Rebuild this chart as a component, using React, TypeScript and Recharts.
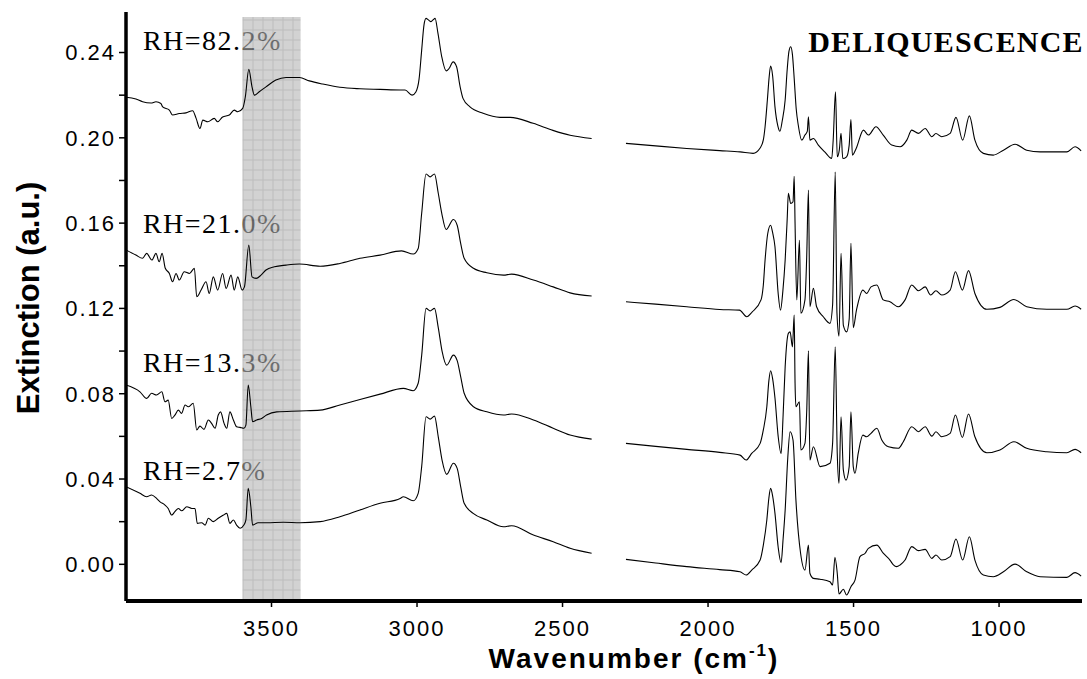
import React from 'react';
import { LineChart, Line, XAxis, YAxis, ReferenceArea, ReferenceDot } from 'recharts';

type Pt = [number, number];

// wavenumber (cm-1), extinction
const rh822Left: Pt[] = [
  [4000, 0.219], [3966, 0.2182], [3943, 0.2169], [3914, 0.2163], [3897, 0.2169], [3880, 0.2161], [3874, 0.2145],
  [3851, 0.213], [3840, 0.2107], [3817, 0.2114], [3794, 0.2117], [3771, 0.2127], [3759, 0.2091], [3746, 0.2044],
  [3736, 0.2083], [3719, 0.2075], [3697, 0.2091], [3685, 0.2075], [3668, 0.2098], [3645, 0.2107], [3628, 0.213],
  [3616, 0.2122], [3599, 0.2138], [3590, 0.2192], [3578, 0.2321], [3567, 0.2239], [3559, 0.22], [3542, 0.2216],
  [3519, 0.2239], [3485, 0.2271], [3450, 0.2283], [3404, 0.2283], [3370, 0.2267], [3324, 0.2252], [3265, 0.2237],
  [3196, 0.223], [3127, 0.2227], [3058, 0.2224], [3041, 0.2224], [3017, 0.22], [3004, 0.2215], [2993, 0.2275],
  [2984, 0.2411], [2976, 0.253], [2969, 0.256], [2961, 0.2553], [2953, 0.2545], [2945, 0.2553], [2938, 0.256],
  [2928, 0.249], [2915, 0.238], [2900, 0.2314], [2890, 0.2325], [2876, 0.2356], [2864, 0.2333], [2852, 0.224],
  [2842, 0.2185], [2818, 0.2145], [2773, 0.2115], [2715, 0.2096], [2680, 0.2096], [2601, 0.2068], [2533, 0.2035],
  [2474, 0.2012], [2400, 0.1997],
];
const rh822Right: Pt[] = [
  [2282, 0.1974], [2180, 0.1962], [2073, 0.195], [1960, 0.194], [1890, 0.1934], [1845, 0.1927], [1821, 0.1952],
  [1810, 0.199], [1804, 0.2052], [1796, 0.218], [1790, 0.2285], [1785, 0.2336], [1778, 0.229], [1770, 0.2145],
  [1760, 0.2055], [1753, 0.2031], [1745, 0.208], [1735, 0.2177], [1728, 0.232], [1722, 0.2405], [1716, 0.2427],
  [1710, 0.239], [1704, 0.228], [1697, 0.2135], [1690, 0.206], [1678, 0.1989], [1667, 0.2013], [1659, 0.203],
  [1655, 0.2098], [1650, 0.1989], [1638, 0.1997], [1621, 0.1966], [1599, 0.1934], [1575, 0.1903], [1570, 0.1989],
  [1562, 0.2216], [1556, 0.1911], [1549, 0.1942], [1543, 0.2021], [1537, 0.1903], [1524, 0.1911], [1515, 0.1966],
  [1509, 0.2086], [1504, 0.1919], [1491, 0.195], [1466, 0.2036], [1449, 0.2013], [1423, 0.2052], [1398, 0.2013],
  [1369, 0.1966], [1340, 0.1958], [1317, 0.1989], [1300, 0.2036], [1277, 0.2021], [1254, 0.2044], [1231, 0.2005],
  [1217, 0.202], [1197, 0.2005], [1168, 0.2021], [1148, 0.2096], [1125, 0.1989], [1102, 0.2103], [1083, 0.1989],
  [1054, 0.1927], [1020, 0.1919], [985, 0.1942], [945, 0.197], [905, 0.1942], [859, 0.1934], [767, 0.1934],
  [739, 0.1958], [718, 0.1939],
];

const rh210Left: Pt[] = [
  [4000, 0.1474], [3966, 0.145], [3943, 0.1435], [3929, 0.1458], [3911, 0.1427], [3897, 0.1458], [3886, 0.1419],
  [3876, 0.1458], [3865, 0.1388], [3851, 0.1364], [3840, 0.1325], [3828, 0.1364], [3817, 0.1333], [3800, 0.1372],
  [3782, 0.1364], [3765, 0.1388], [3757, 0.1255], [3742, 0.1286], [3725, 0.1325], [3714, 0.127], [3700, 0.1348],
  [3685, 0.1286], [3668, 0.1364], [3656, 0.1294], [3639, 0.1356], [3628, 0.1286], [3616, 0.1348], [3601, 0.1286],
  [3593, 0.1301], [3578, 0.1497], [3567, 0.1348], [3553, 0.1341], [3536, 0.1356], [3519, 0.138], [3490, 0.1395],
  [3450, 0.1403], [3404, 0.1408], [3333, 0.1398], [3265, 0.1411], [3196, 0.1435], [3127, 0.145], [3053, 0.147],
  [3013, 0.1455], [2996, 0.1481], [2984, 0.1646], [2969, 0.183], [2955, 0.1817], [2940, 0.183], [2927, 0.174],
  [2915, 0.1646], [2900, 0.157], [2875, 0.1617], [2862, 0.159], [2850, 0.1505], [2838, 0.1435], [2806, 0.1388],
  [2760, 0.1367], [2703, 0.1356], [2675, 0.1361], [2600, 0.1333], [2532, 0.1301], [2474, 0.1273], [2400, 0.1258],
];
const rh210Right: Pt[] = [
  [2282, 0.1231], [2180, 0.122], [2073, 0.1208], [1960, 0.1195], [1892, 0.1192], [1867, 0.1161], [1848, 0.1184],
  [1818, 0.124], [1810, 0.131], [1804, 0.1427], [1795, 0.155], [1785, 0.159], [1778, 0.1555], [1770, 0.1489],
  [1759, 0.127], [1751, 0.1192], [1743, 0.128], [1735, 0.1427], [1728, 0.162], [1724, 0.174], [1716, 0.1692],
  [1708, 0.17], [1704, 0.182], [1701, 0.16], [1695, 0.124], [1686, 0.152], [1681, 0.1177], [1667, 0.124],
  [1661, 0.144], [1655, 0.1755], [1650, 0.1208], [1638, 0.1294], [1627, 0.1208], [1604, 0.1161], [1581, 0.113],
  [1572, 0.1216], [1563, 0.184], [1557, 0.1177], [1550, 0.107], [1543, 0.1458], [1535, 0.112], [1524, 0.109],
  [1515, 0.115], [1509, 0.1505], [1501, 0.111], [1490, 0.1192], [1468, 0.1286], [1455, 0.127], [1440, 0.1301],
  [1420, 0.131], [1398, 0.124], [1375, 0.1231], [1346, 0.1208], [1323, 0.124], [1300, 0.131], [1277, 0.1283],
  [1254, 0.1301], [1235, 0.1263], [1217, 0.1283], [1197, 0.1263], [1168, 0.1286], [1150, 0.1372], [1126, 0.1286],
  [1105, 0.1377], [1083, 0.127], [1042, 0.1196], [997, 0.1205], [949, 0.1242], [905, 0.1208], [836, 0.1196],
  [767, 0.1196], [739, 0.1211], [718, 0.1196],
];

const rh133Left: Pt[] = [
  [4000, 0.0841], [3952, 0.0809], [3929, 0.0778], [3912, 0.0802], [3895, 0.0794], [3877, 0.0809], [3866, 0.0762],
  [3855, 0.077], [3843, 0.0684], [3832, 0.07], [3820, 0.0723], [3809, 0.0708], [3797, 0.0747], [3786, 0.0739],
  [3769, 0.0755], [3757, 0.063], [3746, 0.0648], [3732, 0.0633], [3717, 0.0677], [3706, 0.0661], [3694, 0.0638],
  [3683, 0.07], [3675, 0.0715], [3663, 0.0661], [3654, 0.0638], [3643, 0.0715], [3631, 0.0677], [3620, 0.0645],
  [3608, 0.0642], [3595, 0.0638], [3588, 0.0653], [3580, 0.0841], [3571, 0.0739], [3565, 0.0669], [3551, 0.0677],
  [3534, 0.0684], [3517, 0.07], [3482, 0.0715], [3402, 0.0719], [3333, 0.0723], [3265, 0.0747], [3196, 0.0773],
  [3127, 0.0798], [3047, 0.0825], [3013, 0.0814], [2996, 0.0849], [2984, 0.098], [2969, 0.12], [2955, 0.1188],
  [2940, 0.12], [2927, 0.111], [2914, 0.1], [2898, 0.0934], [2875, 0.0981], [2862, 0.0955], [2850, 0.088],
  [2838, 0.0802], [2806, 0.0739], [2760, 0.0715], [2703, 0.07], [2675, 0.0705], [2600, 0.0677], [2532, 0.0638],
  [2474, 0.0606], [2400, 0.0587],
];
const rh133Right: Pt[] = [
  [2282, 0.0567], [2180, 0.0553], [2073, 0.0539], [1960, 0.0525], [1890, 0.0512], [1869, 0.0489], [1850, 0.052],
  [1821, 0.0567], [1810, 0.063], [1798, 0.0739], [1791, 0.086], [1785, 0.0908], [1778, 0.087], [1770, 0.078],
  [1759, 0.06], [1749, 0.052], [1742, 0.07], [1735, 0.0926], [1724, 0.1083], [1718, 0.109], [1710, 0.102],
  [1704, 0.1169], [1701, 0.085], [1698, 0.0739], [1686, 0.0762], [1681, 0.0536], [1667, 0.0567], [1661, 0.0715],
  [1655, 0.1001], [1650, 0.0489], [1638, 0.0551], [1615, 0.0458], [1581, 0.0474], [1572, 0.0567], [1563, 0.102],
  [1556, 0.052], [1550, 0.038], [1543, 0.0692], [1535, 0.0442], [1526, 0.0395], [1515, 0.0458], [1509, 0.0715],
  [1501, 0.0458], [1495, 0.0427], [1484, 0.052], [1468, 0.0606], [1455, 0.0598], [1440, 0.0614], [1420, 0.0638],
  [1403, 0.0583], [1380, 0.0551], [1346, 0.0544], [1329, 0.0575], [1300, 0.0645], [1277, 0.0622], [1254, 0.0645],
  [1231, 0.0601], [1217, 0.0622], [1197, 0.0598], [1168, 0.0614], [1150, 0.07], [1126, 0.0595], [1105, 0.0705],
  [1083, 0.0598], [1042, 0.0523], [997, 0.0536], [949, 0.0575], [905, 0.0544], [836, 0.0528], [767, 0.0523],
  [739, 0.0539], [718, 0.0523],
];

const rh27Left: Pt[] = [
  [4000, 0.0364], [3952, 0.0333], [3929, 0.0317], [3912, 0.0325], [3895, 0.0309], [3883, 0.0293], [3866, 0.0278],
  [3855, 0.0262], [3843, 0.0231], [3832, 0.0247], [3820, 0.0262], [3809, 0.0251], [3791, 0.027], [3774, 0.0262],
  [3763, 0.0262], [3755, 0.0192], [3740, 0.0195], [3728, 0.0184], [3717, 0.0216], [3700, 0.02], [3683, 0.0216],
  [3665, 0.0231], [3654, 0.0239], [3643, 0.0192], [3631, 0.0208], [3620, 0.0184], [3608, 0.0169], [3595, 0.0184],
  [3588, 0.0208], [3580, 0.0356], [3571, 0.027], [3565, 0.0184], [3546, 0.0195], [3517, 0.0195], [3459, 0.0197],
  [3402, 0.0195], [3333, 0.02], [3265, 0.0223], [3196, 0.0255], [3127, 0.0286], [3058, 0.0309], [3047, 0.0317],
  [3013, 0.0298], [2996, 0.0333], [2984, 0.0458], [2969, 0.0692], [2955, 0.0681], [2940, 0.0695], [2927, 0.0598],
  [2914, 0.0489], [2898, 0.0422], [2875, 0.0474], [2862, 0.045], [2850, 0.0364], [2838, 0.0286], [2807, 0.0239],
  [2760, 0.0208], [2703, 0.0176], [2675, 0.0181], [2600, 0.0137], [2532, 0.0106], [2474, 0.0075], [2400, 0.0052],
];
const rh27Right: Pt[] = [
  [2282, 0.0023], [2180, 0.0006], [2073, -0.0011], [1960, -0.0025], [1890, -0.0035], [1869, -0.005], [1850, -0.0027],
  [1821, 0.002], [1810, 0.009], [1798, 0.0208], [1791, 0.031], [1785, 0.0356], [1778, 0.032], [1770, 0.0239],
  [1759, 0.008], [1749, 0.0008], [1742, 0.012], [1735, 0.0255], [1726, 0.05], [1718, 0.0622], [1708, 0.0583],
  [1698, 0.0301], [1682, 0.0052], [1667, -0.0027], [1655, 0.009], [1650, -0.0042], [1638, -0.0066], [1615, -0.007],
  [1581, -0.0082], [1572, -0.0097], [1564, 0.0033], [1556, -0.0042], [1550, -0.0139], [1535, -0.0117],
  [1524, -0.0144], [1509, -0.0105], [1495, -0.0074], [1478, 0.0036], [1460, 0.0052], [1449, 0.0075], [1420, 0.009],
  [1398, 0.0052], [1375, 0.002], [1363, -0.0003], [1352, -0.0011], [1340, -0.0003], [1323, 0.002], [1300, 0.0083],
  [1277, 0.0064], [1254, 0.007], [1231, 0.0028], [1217, 0.0044], [1197, 0.002], [1168, 0.0036], [1148, 0.0119],
  [1125, 0.002], [1102, 0.0129], [1083, 0.002], [1054, -0.005], [1020, -0.0058], [985, -0.0035], [945, 0.0001],
  [905, -0.0035], [859, -0.0058], [767, -0.0061], [739, -0.0039], [718, -0.0055],
];

const xTicks = [3500, 3000, 2500, 2000, 1500, 1000];
const yTicks = [0, 0.02, 0.04, 0.06, 0.08, 0.1, 0.12, 0.14, 0.16, 0.18, 0.2, 0.22, 0.24];
const rhLabels = ['RH=82.2%', 'RH=21.0%', 'RH=13.3%', 'RH=2.7%'];

// gap in the spectra between the two segments
const GAP_WN = 2340;

const toSeries = (left: Pt[], right: Pt[]) => [
  ...left.map(([wn, v]) => ({ wn, v })),
  { wn: GAP_WN, v: null },
  ...right.map(([wn, v]) => ({ wn, v })),
];

const spectra = [
  toSeries(rh822Left, rh822Right),
  toSeries(rh210Left, rh210Right),
  toSeries(rh133Left, rh133Right),
  toSeries(rh27Left, rh27Right),
];

const labelWn = 3942;
const labelY = [0.2411, 0.1553, 0.0902, 0.0395];

const sans = 'Liberation Sans, Arial, Helvetica, sans-serif';
const serif = 'Liberation Serif, Times New Roman, serif';

const XTitle = (props: any) => {
  const vb = props.viewBox;
  const cx = vb.x + vb.width / 2 + 30;
  return (
    <text x={cx} y={vb.y + 67} textAnchor="middle" fontFamily={sans} fontWeight="bold" fontSize={28} letterSpacing={2} fill="#000">
      Wavenumber (cm
      <tspan fontSize={17} dy={-12}>-1</tspan>
      <tspan dy={12}>)</tspan>
    </text>
  );
};

const YTitle = (props: any) => {
  const vb = props.viewBox;
  const x = 39;
  const y = vb.y + 286;
  return (
    <text x={x} y={y} transform={`rotate(-90, ${x}, ${y})`} textAnchor="middle" fontFamily={sans} fontWeight="bold" fontSize={31} fill="#000">
      Extinction (a.u.)
    </text>
  );
};

export default function App() {
  return (
    <div style={{ position: 'absolute', left: 0, top: 0, width: 1087, height: 679, background: '#fff' }}>
      <LineChart width={1087} height={679} margin={{ top: 12, right: 5, left: 0, bottom: 0 }}>
        <defs>
          <pattern id="bandGrid" patternUnits="userSpaceOnUse" x={2.5} y={9.5} width={10} height={10}>
            <rect x={0} y={0} width={10} height={10} fill="#b6b6b6" />
            <line x1={0} y1={0.5} x2={10} y2={0.5} stroke="#939393" strokeWidth={1} />
            <line x1={0.5} y1={0} x2={0.5} y2={10} stroke="#939393" strokeWidth={1} />
          </pattern>
        </defs>
        <XAxis
          type="number"
          dataKey="wn"
          domain={[715, 4000]}
          reversed
          allowDataOverflow
          ticks={xTicks}
          height={78}
          tickSize={6}
          tickMargin={13}
          axisLine={{ stroke: '#000', strokeWidth: 4 }}
          tickLine={{ stroke: '#000', strokeWidth: 1.5 }}
          tick={{ fill: '#000', fontSize: 22, fontFamily: sans, letterSpacing: 2 }}
          label={{ content: XTitle }}
        />
        <YAxis
          type="number"
          domain={[-0.0172, 0.259]}
          allowDataOverflow
          ticks={yTicks}
          width={126}
          tickSize={7}
          tickMargin={3}
          tickFormatter={(v: number) => (Math.round(v * 100) % 4 === 0 ? v.toFixed(2) : '')}
          axisLine={{ stroke: '#000', strokeWidth: 3.5 }}
          tickLine={{ stroke: '#000', strokeWidth: 1.5 }}
          tick={{ fill: '#000', fontSize: 22, fontFamily: sans, letterSpacing: 2 }}
          label={{ content: YTitle }}
        />
        {rhLabels.map((t, i) => (
          <ReferenceDot
            key={t}
            x={labelWn}
            y={labelY[i]}
            r={0}
            zIndex={50}
            shape={(p: any) => (
              <text x={p.cx} y={p.cy} fontFamily={serif} fontSize={28} letterSpacing={1.5} fill="#000">
                {t}
              </text>
            )}
          />
        ))}
        <ReferenceArea
          x1={3600}
          x2={3400}
          y1={-0.0172}
          y2={0.2567}
          fill="url(#bandGrid)"
          fillOpacity={0.62}
          stroke="none"
          zIndex={60}
        />
        {spectra.map((d, i) => (
          <Line
            key={i}
            data={d}
            dataKey="v"
            type="monotone"
            stroke="#000"
            strokeWidth={1.1}
            dot={false}
            activeDot={false}
            connectNulls={false}
            isAnimationActive={false}
          />
        ))}
        <ReferenceDot
          x={1656}
          y={0.2402}
          r={0}
          zIndex={2000}
          shape={(p: any) => (
            <text x={p.cx} y={p.cy} fontFamily={serif} fontWeight="bold" fontSize={30} letterSpacing={1.2} fill="#000">
              DELIQUESCENCE
            </text>
          )}
        />
      </LineChart>
    </div>
  );
}
